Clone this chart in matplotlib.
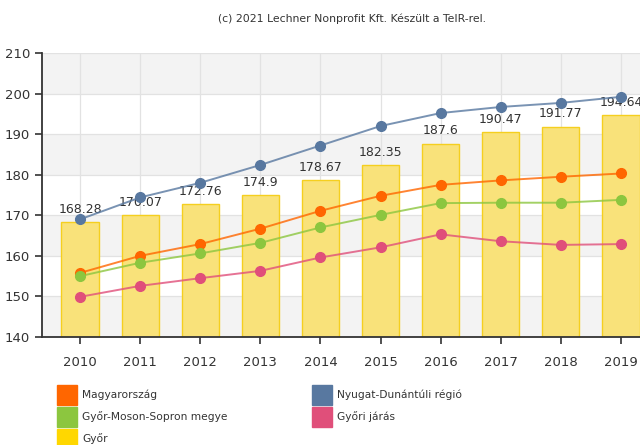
import numpy as np
import matplotlib
matplotlib.use("Agg")
import matplotlib.pyplot as plt
from matplotlib.patches import Rectangle

years = ["2010", "2011", "2012", "2013", "2014", "2015", "2016", "2017", "2018", "2019"]

gyor = [168.28, 170.07, 172.76, 174.9, 178.67, 182.35, 187.6, 190.47, 191.77, 194.64]
magyarorszag = [155.8, 160.0, 162.9, 166.7, 171.1, 174.8, 177.5, 178.6, 179.5, 180.3]
megye = [155.0, 158.3, 160.6, 163.2, 167.0, 170.1, 173.0, 173.1, 173.1, 173.8]
regio = [169.0, 174.4, 178.0, 182.4, 187.2, 192.0, 195.2, 196.7, 197.7, 199.2]
jaras = [149.9, 152.6, 154.5, 156.3, 159.6, 162.1, 165.3, 163.6, 162.7, 162.9]

series = [
    ("Magyarország", magyarorszag, "#ff6600"),
    ("Győr-Moson-Sopron megye", megye, "#8cc63f"),
    ("Nyugat-Dunántúli régió", regio, "#5878a0"),
    ("Győri járás", jaras, "#e04f7a"),
]

fig = plt.figure(figsize=(6.4, 4.45), dpi=100)
ax = fig.add_axes([42 / 640, 1 - 337 / 445, 617 / 640, 284 / 445])

x = np.arange(len(years))

# alternating background bands
for lo in range(140, 210, 10):
    if (lo // 10) % 2 == 0:
        ax.axhspan(lo, lo + 10, color="#f3f3f3", zorder=0, lw=0)
ax.grid(True, color="#e2e2e2", lw=0.9, zorder=0.5)
ax.set_axisbelow(True)

ax.bar(x, gyor, width=0.62, color="#f9e27a", edgecolor="#f5cf1f", lw=1.0, zorder=2)
for xi, v in zip(x, gyor):
    ax.text(xi, v + 1.6, f"{v:g}", ha="center", va="bottom", fontsize=9, color="#333333", zorder=3)

for name, vals, c in series:
    ax.plot(x, vals, color=c, lw=1.4, alpha=0.8, zorder=4)
    ax.plot(x, vals, "o", color=c, ms=7, zorder=5)

ax.set_xlim(-0.633, 9.633)
ax.set_ylim(140, 210)
ax.set_yticks(range(140, 211, 10))
ax.set_xticks(x)
ax.set_xticklabels(years)
ax.tick_params(axis="both", labelsize=9.5, colors="#333333", length=5, width=1.2)
ax.tick_params(axis="x", pad=9)
for s in ["top", "right"]:
    ax.spines[s].set_visible(False)
for s in ["left", "bottom"]:
    ax.spines[s].set_color("#333333")
    ax.spines[s].set_linewidth(1.3)

fig.text(352 / 640, 1 - 19 / 445, "(c) 2021 Lechner Nonprofit Kft. Készült a TeIR-rel.",
         ha="center", va="center", fontsize=7.8, color="#333333")

# legend
legend_items = [
    ("Magyarország", "#ff6600", 57, 395),
    ("Győr-Moson-Sopron megye", "#8cc63f", 57, 417),
    ("Győr", "#ffd700", 57, 439),
    ("Nyugat-Dunántúli régió", "#5878a0", 312, 395),
    ("Győri járás", "#e04f7a", 312, 417),
]
for label, c, px, py in legend_items:
    fig.patches.append(Rectangle((px / 640, 1 - (py + 10) / 445), 20 / 640, 20 / 445,
                                 transform=fig.transFigure, color=c, figure=fig))
    fig.text((px + 25) / 640, 1 - py / 445, label, ha="left", va="center",
             fontsize=7.7, color="#333333")

fig.savefig("out.png", dpi=100)
